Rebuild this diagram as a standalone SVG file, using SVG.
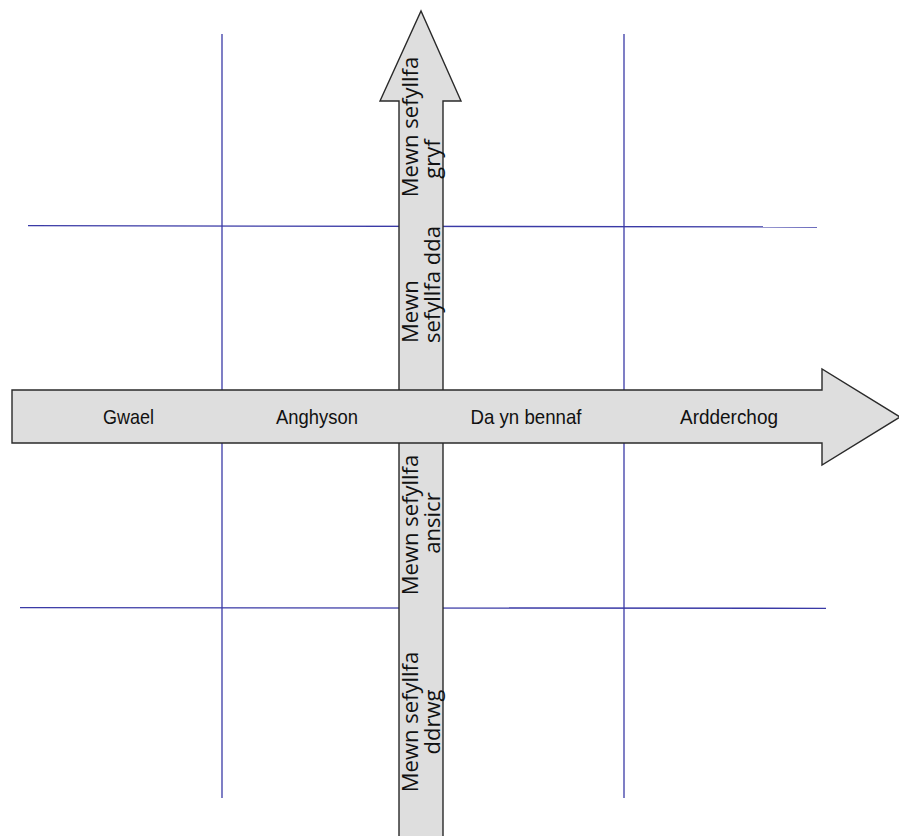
<svg xmlns="http://www.w3.org/2000/svg" width="899" height="836" viewBox="0 0 899 836">
  <style>
    .grid { stroke: #3a3aa6; stroke-width: 1.3; fill: none; }
    .arrow { fill: #dedede; stroke: #2a2a2a; stroke-width: 1.4; stroke-linejoin: miter; }
    .hl { font-family: "Liberation Sans", Arial, sans-serif; font-size: 21px; fill: #111; text-anchor: middle; }
    .vl { font-family: "Open Sans", "DejaVu Sans", sans-serif; font-size: 22px; fill: #111; }
  </style>
  <rect width="899" height="836" fill="#ffffff"/>
  <g id="connectors">
    <line class="grid" x1="222" y1="34" x2="222" y2="798"/>
    <line class="grid" x1="624" y1="34" x2="624" y2="798"/>
    <line class="grid" x1="28" y1="225.7" x2="817" y2="227"/>
    <line class="grid" x1="20" y1="607.6" x2="826" y2="608.3"/>
  </g>
  <g id="vertical-axis">
    <polygon class="arrow" points="399,837 399,101 380,101 421,11 461,101 443,101 443,837"/>
  </g>
  <g id="horizontal-axis">
    <polygon class="arrow" points="12,390 822,390 822,369 900,417 822,465 822,443 12,443"/>
  </g>
  <g id="label-gwael"><text class="hl" x="128.5" y="424" textLength="51" lengthAdjust="spacingAndGlyphs">Gwael</text></g>
  <g id="label-anghyson"><text class="hl" x="317" y="424" textLength="82" lengthAdjust="spacingAndGlyphs">Anghyson</text></g>
  <g id="label-da-yn-bennaf"><text class="hl" x="526" y="424" textLength="111" lengthAdjust="spacingAndGlyphs">Da yn bennaf</text></g>
  <g id="label-ardderchog"><text class="hl" x="729" y="424" textLength="98" lengthAdjust="spacingAndGlyphs">Ardderchog</text></g>
  <g id="label-gryf">
    <text class="vl" text-anchor="middle" transform="translate(418,127) rotate(-90)">Mewn sefyllfa</text>
    <text class="vl" text-anchor="middle" transform="translate(440,159) rotate(-90)">gryf</text>
  </g>
  <g id="label-dda">
    <text class="vl" text-anchor="start" transform="translate(418,343) rotate(-90)">Mewn</text>
    <text class="vl" text-anchor="start" transform="translate(440,343) rotate(-90)">sefyllfa dda</text>
  </g>
  <g id="label-ansicr">
    <text class="vl" text-anchor="middle" transform="translate(418,525) rotate(-90)">Mewn sefyllfa</text>
    <text class="vl" text-anchor="middle" transform="translate(440,523) rotate(-90)">ansicr</text>
  </g>
  <g id="label-ddrwg">
    <text class="vl" text-anchor="middle" transform="translate(418,722) rotate(-90)">Mewn sefyllfa</text>
    <text class="vl" text-anchor="middle" transform="translate(440,722) rotate(-90)">ddrwg</text>
  </g>
</svg>
